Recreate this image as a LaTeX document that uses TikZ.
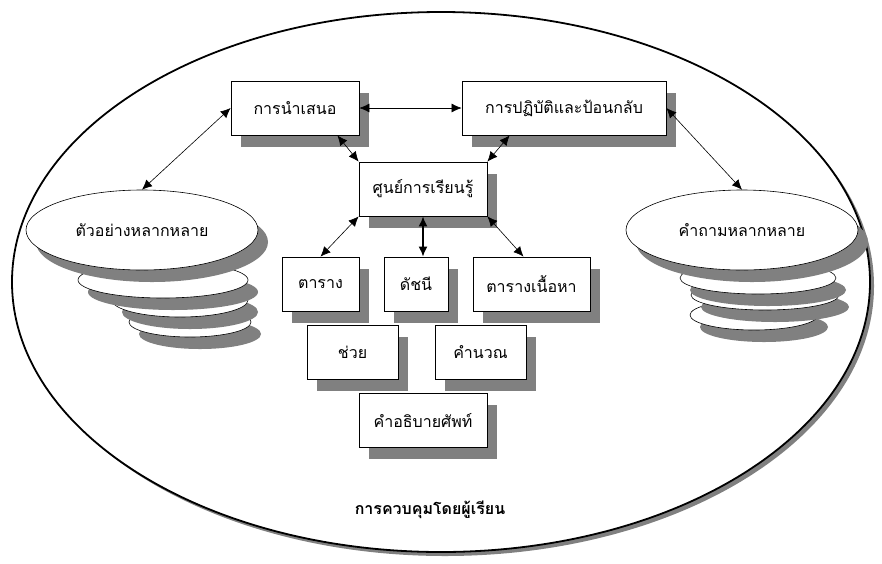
\documentclass[tikz,border=0pt]{standalone}
\usepackage{fontspec}
\newfontfamily\thaifont[Script=Thai]{Loma}
\usetikzlibrary{
  shapes.geometric,
  arrows.meta,
  positioning,
  shadows,      % "drop shadow"
}
\def\myboxh{54pt}
\def\mysx{10pt}
\def\mysy{-12pt}
\tikzset{
  font=\thaifont\fontsize{16}{18}\selectfont,
  >={Latex[length=10pt,width=9pt]},
  my shadow/.style={
    drop shadow={shadow xshift=\mysx,shadow yshift=\mysy,fill=black!50,opacity=1}
  },
  my box/.style={
    draw,
    fill=white,
    rectangle,
    minimum height=\myboxh,
    inner sep=1pt,
    line width=0.8pt,
    my shadow
  },
  my disk/.style={
    draw,
    fill=white,
    ellipse,
    inner sep=0pt,
    line width=0.6pt,
    my shadow
  },
  my frame/.style={
    draw,
    fill=white,
    ellipse,
    line width=1.8pt,
    drop shadow={shadow xshift=4pt,shadow yshift=-4pt,fill=black!50,opacity=1}
  },
  my link/.style={
    <->,
    line width=0.6pt
  },
  my link thick/.style={
    <->,
    line width=1.6pt
  }
}

\begin{document}
\begin{tikzpicture}[x=1pt,y=-1pt]
\useasboundingbox (0,0) rectangle (882,563);
\node[my frame,minimum width=858pt,minimum height=540pt] (frame) at (441,282) {};
\node[font=\thaifont\bfseries\fontsize{16}{18}\selectfont] (ctrl) at (430,510) {การควบคุมโดยผู้เรียน};

% stacks of disks
\node[my disk,minimum width=122pt,minimum height=30pt] (ex4) at (190,322) {};
\node[my disk,minimum width=136pt,minimum height=34pt] (ex3) at (180,300) {};
\node[my disk,minimum width=170pt,minimum height=36pt] (ex2) at (163,280) {};
\node[my disk,minimum width=232pt,minimum height=80pt] (ex)  at (142,230) {ตัวอย่างหลากหลาย};
\node[my disk,minimum width=128pt,minimum height=30pt] (qu4) at (754,315) {};
\node[my disk,minimum width=148pt,minimum height=30pt] (qu3) at (765,295) {};
\node[my disk,minimum width=156pt,minimum height=32pt] (qu2) at (758,278) {};
\node[my disk,minimum width=232pt,minimum height=80pt] (qu)  at (742,230) {คำถามหลากหลาย};

\node[my box,minimum width=128pt] (present)  at (295,108)   {การนำเสนอ};
\node[my box,minimum width=204pt] (practice) at (564,108)   {การปฏิบัติและป้อนกลับ};
\node[my box,minimum width=128pt] (center)   at (423,189)   {ศูนย์การเรียนรู้};
\node[my box,minimum width=77pt]  (table)    at (320.5,284) {ตาราง};
\node[my box,minimum width=64pt]  (index)    at (416,284)   {ดัชนี};
\node[my box,minimum width=117pt] (contents) at (531.5,284) {ตารางเนื้อหา};
\node[my box,minimum width=91pt]  (help)     at (352.5,352) {ช่วย};
\node[my box,minimum width=91pt]  (calc)     at (480.5,352) {คำนวณ};
\node[my box,minimum width=128pt] (gloss)    at (423,420)   {คำอธิบายศัพท์};

\draw[my link] (ex.north) -- (present.west);
\draw[my link] (present.east) -- (practice.west);
\draw[my link] (practice.east) -- (qu.north);
\draw[my link] (center.north west) -- ([xshift=-22pt]present.south east);
\draw[my link] (center.north east) -- ([xshift=48pt]practice.south west);
\draw[my link] (center.south west) -- (table.north);
\draw[my link thick] (center.south) -- (center.south |- index.north);
\draw[my link] (center.south east) -- ([xshift=-8pt]contents.north);
\end{tikzpicture}
\end{document}
